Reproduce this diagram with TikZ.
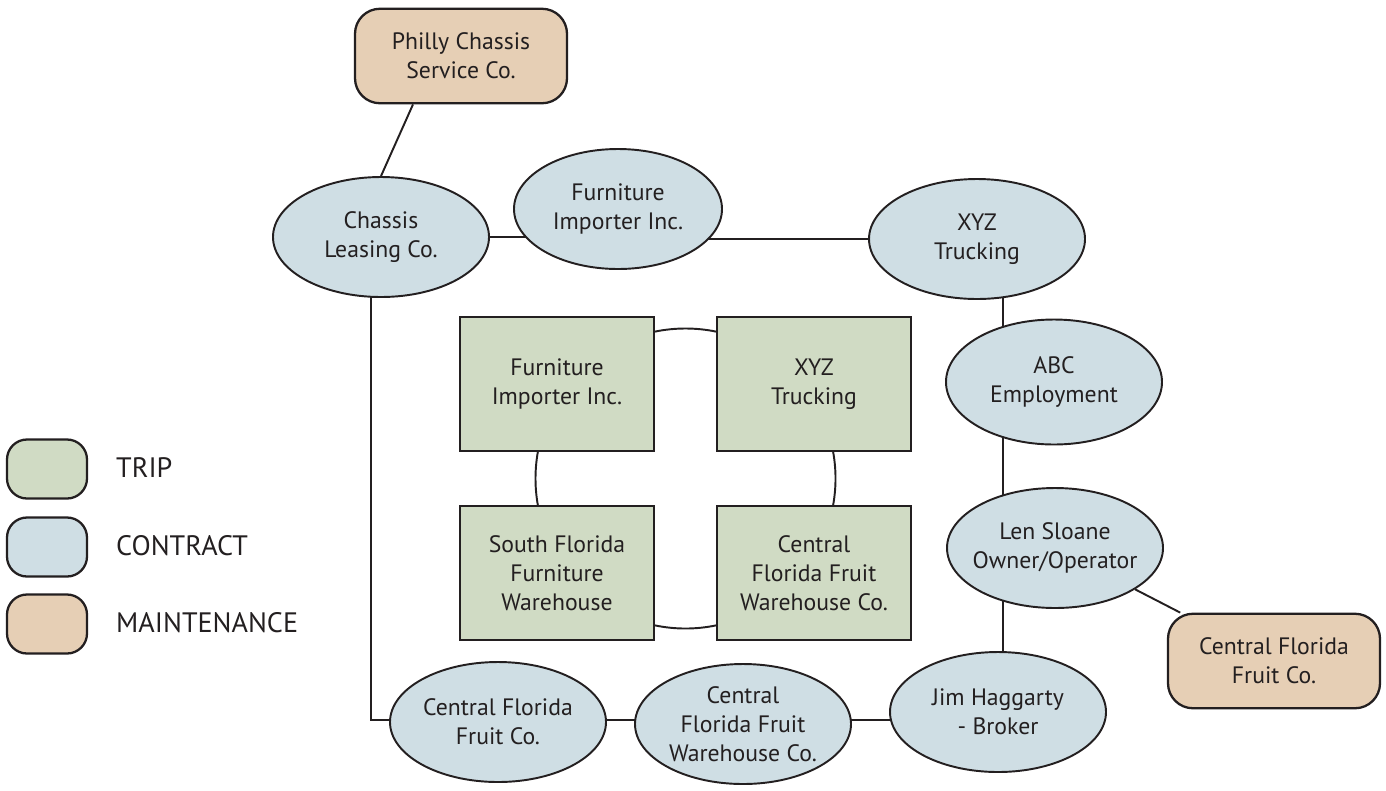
\documentclass[tikz,border=0pt]{standalone}
\usepackage{fontspec}
\setmainfont{PT Sans}
\usetikzlibrary{shapes.geometric,backgrounds,calc}
\definecolor{tripgreen}{RGB}{208,219,196}
\definecolor{contractblue}{RGB}{207,222,228}
\definecolor{maintan}{RGB}{230,207,181}
\definecolor{ink}{RGB}{35,31,32}

\begin{document}
\begin{tikzpicture}[x=0.2mm, y=-0.2mm,
  every node/.style={text=ink, align=center, font=\fontsize{13.5}{16.5}\selectfont},
  contract/.style={ellipse, draw=ink, line width=1.1pt, fill=contractblue, inner sep=0pt, minimum width=43.2mm, minimum height=24mm},
  trip/.style={rectangle, draw=ink, line width=1.3pt, fill=tripgreen, minimum width=38.8mm, minimum height=26.7mm},
  maint/.style={rectangle, rounded corners=5mm, draw=ink, line width=1.3pt, fill=maintan, minimum width=42.4mm, minimum height=18.9mm},
  keybox/.style={rectangle, rounded corners=4mm, draw=ink, line width=1.3pt, minimum width=16mm, minimum height=11.8mm},
  keytext/.style={anchor=west, font=\fontsize{16}{18}\selectfont},
  link/.style={draw=ink, line width=1.1pt}]
\useasboundingbox (0,0) rectangle (1386,790);

\node[maint] (philly) at (461,56) {Philly Chassis\\Service Co.};
\node[contract] (chassis) at (381,237) {Chassis\\Leasing Co.};
\node[contract, minimum width=41.6mm] (fimp) at (618,209) {Furniture\\Importer Inc.};
\node[contract] (xyz) at (977,239) {XYZ\\Trucking};
\node[contract, minimum height=25mm] (abc) at (1054,382) {ABC\\Employment};
\node[contract, inner xsep=-1.2mm] (len) at (1055,548) {Len Sloane\\Owner/Operator};
\node[maint] (cfmaint) at (1274,661) {Central Florida\\Fruit Co.};
\node[contract] (jim) at (998,712) {Jim Haggarty\\- Broker};
\node[contract] (cfw) at (743,724) {Central\\Florida Fruit\\Warehouse Co.};
\node[contract] (cff) at (498,722) {Central Florida\\Fruit Co.};

\node[trip] (ftrip) at (557,384) {Furniture\\Importer Inc.};
\node[trip] (xtrip) at (814,384) {XYZ\\Trucking};
\node[trip] (strip) at (557,573) {South Florida\\Furniture\\Warehouse};
\node[trip] (cwtrip) at (814,573) {Central\\Florida Fruit\\Warehouse Co.};

\coordinate (spine) at (1003,0);
\coordinate (corner) at (371,720);

\begin{scope}[on background layer]
\draw[link] ($(ftrip)!0.5!(cwtrip)$) circle [radius=30mm];
\draw[link] ($(philly.south)+(-48,0)$) -- (chassis.north);
\draw[link] (chassis.east) -- (chassis.east -| fimp);
\draw[link] (xyz.west) -- (xyz.west -| fimp);
\draw[link] (xyz -| spine) -- (abc -| spine);
\draw[link] (abc -| spine) -- (len -| spine);
\draw[link] (len -| spine) -- (jim -| spine);
\draw[link] (len) -- (cfmaint);
\draw[link] (chassis -| corner) -- (corner) -- (cff |- corner);
\draw[link] (cff |- corner) -- (cfw |- corner);
\draw[link] (cfw |- corner) -- (jim |- corner);
\end{scope}

\node[keybox, fill=tripgreen] (ktrip) at (47,469) {};
\node[keybox, fill=contractblue] (kcontract) at (47,547) {};
\node[keybox, fill=maintan] (kmaint) at (47,624) {};
\node[keytext] (ltrip) at (110,468) {TRIP};
\node[keytext] (lcontract) at (110,546) {CONTRACT};
\node[keytext] (lmaint) at (110,623) {MAINTENANCE};
\end{tikzpicture}
\end{document}
